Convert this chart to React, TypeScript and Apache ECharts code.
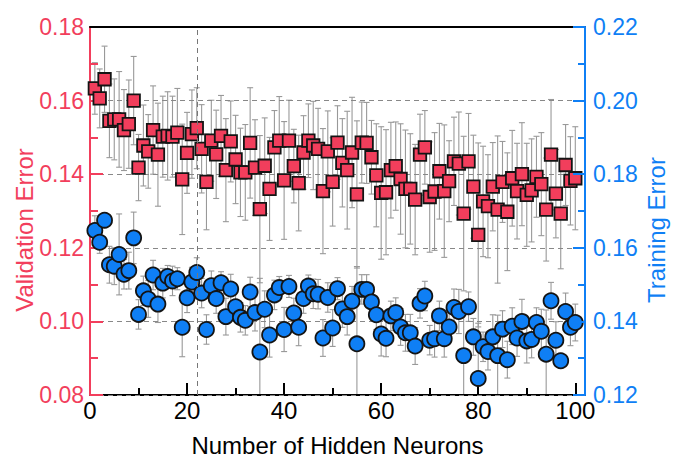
import React, { useEffect, useRef } from 'react';
import * as echarts from 'echarts';

const neurons = [
  1, 2, 3, 4, 5, 6, 7, 8, 9, 10, 11, 12, 13, 14, 15, 16, 17, 18, 19, 20,
  21, 22, 23, 24, 25, 26, 27, 28, 29, 30, 31, 32, 33, 34, 35, 36, 37, 38, 39, 40,
  41, 42, 43, 44, 45, 46, 47, 48, 49, 50, 51, 52, 53, 54, 55, 56, 57, 58, 59, 60,
  61, 62, 63, 64, 65, 66, 67, 68, 69, 70, 71, 72, 73, 74, 75, 76, 77, 78, 79, 80,
  81, 82, 83, 84, 85, 86, 87, 88, 89, 90, 91, 92, 93, 94, 95, 96, 97, 98, 99, 100,
];

const validationError = [
  0.1633, 0.1606, 0.1658, 0.1545, 0.1549, 0.1549, 0.152, 0.1536, 0.16, 0.1418,
  0.1478, 0.1462, 0.152, 0.1453, 0.1502, 0.1504, 0.1502, 0.1513, 0.1386, 0.1458,
  0.1509, 0.1525, 0.1469, 0.1379, 0.1491, 0.1454, 0.1504, 0.1411, 0.1489, 0.144,
  0.1405, 0.1405, 0.1485, 0.1418, 0.1305, 0.1423, 0.136, 0.1473, 0.1491, 0.1383,
  0.1491, 0.1422, 0.1376, 0.1459, 0.1491, 0.1478, 0.1469, 0.1354, 0.1462, 0.1379,
  0.1486, 0.1431, 0.1411, 0.1459, 0.1345, 0.1486, 0.1485, 0.1446, 0.1397, 0.1349,
  0.1351, 0.1411, 0.1422, 0.1387, 0.136, 0.136, 0.1331, 0.1453, 0.1473, 0.1338,
  0.1353, 0.1408, 0.1354, 0.1381, 0.1435, 0.1429, 0.1293, 0.1435, 0.1366, 0.1235,
  0.1326, 0.1313, 0.1366, 0.1304, 0.1379, 0.1298, 0.1389, 0.1354, 0.14, 0.1344,
  0.1356, 0.1393, 0.1373, 0.1304, 0.1453, 0.1347, 0.1293, 0.1425, 0.1382, 0.1389,
];

const validationStd = [
  0.007, 0.008, 0.009, 0.01, 0.011, 0.013, 0.011, 0.012, 0.012, 0.009,
  0.011, 0.01, 0.012, 0.014, 0.011, 0.012, 0.011, 0.012, 0.015, 0.011,
  0.012, 0.011, 0.012, 0.013, 0.011, 0.012, 0.011, 0.014, 0.011, 0.012,
  0.012, 0.013, 0.015, 0.013, 0.02, 0.013, 0.014, 0.01, 0.012, 0.016,
  0.011, 0.01, 0.013, 0.01, 0.01, 0.012, 0.011, 0.017, 0.011, 0.012,
  0.01, 0.012, 0.016, 0.015, 0.02, 0.011, 0.011, 0.01, 0.014, 0.018,
  0.017, 0.013, 0.012, 0.015, 0.016, 0.015, 0.015, 0.011, 0.01, 0.015,
  0.016, 0.013, 0.018, 0.011, 0.012, 0.014, 0.021, 0.013, 0.014, 0.025,
  0.015, 0.014, 0.012, 0.02, 0.011, 0.016, 0.013, 0.013, 0.014, 0.014,
  0.014, 0.011, 0.014, 0.014, 0.015, 0.012, 0.015, 0.011, 0.012, 0.014,
];

const trainingError = [
  0.1647, 0.1615, 0.1675, 0.1554, 0.155, 0.1582, 0.1528, 0.1538, 0.1627, 0.1419,
  0.1483, 0.1461, 0.1526, 0.1447, 0.1504, 0.1522, 0.151, 0.1516, 0.1384, 0.1464,
  0.1507, 0.1533, 0.1477, 0.1378, 0.1497, 0.1462, 0.1505, 0.1413, 0.1488, 0.144,
  0.1411, 0.1403, 0.148, 0.1424, 0.1317, 0.1433, 0.1363, 0.1472, 0.1492, 0.1378,
  0.1495, 0.1423, 0.1384, 0.1462, 0.1496, 0.1475, 0.1474, 0.1355, 0.1465, 0.1382,
  0.1489, 0.1434, 0.1413, 0.1455, 0.1339, 0.1487, 0.1487, 0.1453, 0.1418, 0.1366,
  0.1354, 0.1415, 0.1424, 0.1385, 0.1369, 0.1369, 0.1333, 0.1449, 0.1469, 0.1349,
  0.1353, 0.1415, 0.1353, 0.1385, 0.1438, 0.1427, 0.1307, 0.144, 0.1358, 0.1245,
  0.1331, 0.1318, 0.1358, 0.1307, 0.1379, 0.1296, 0.1387, 0.1355, 0.14, 0.1347,
  0.1351, 0.1397, 0.1373, 0.1311, 0.1456, 0.1349, 0.1293, 0.1427, 0.1384, 0.1397,
];

const trainingStd = [
  0.004, 0.003, 0.002, 0.005, 0.005, 0.011, 0.004, 0.005, 0.007, 0.004,
  0.004, 0.005, 0.004, 0.005, 0.004, 0.003, 0.004, 0.003, 0.008, 0.004,
  0.004, 0.004, 0.004, 0.004, 0.004, 0.004, 0.003, 0.005, 0.004, 0.004,
  0.004, 0.004, 0.004, 0.005, 0.02, 0.005, 0.006, 0.004, 0.003, 0.006,
  0.003, 0.004, 0.005, 0.004, 0.003, 0.004, 0.004, 0.005, 0.004, 0.005,
  0.003, 0.005, 0.005, 0.004, 0.021, 0.004, 0.004, 0.004, 0.004, 0.006,
  0.005, 0.004, 0.004, 0.005, 0.005, 0.005, 0.005, 0.004, 0.004, 0.004,
  0.005, 0.004, 0.005, 0.004, 0.005, 0.006, 0.012, 0.004, 0.005, 0.015,
  0.004, 0.005, 0.006, 0.011, 0.005, 0.005, 0.005, 0.005, 0.006, 0.006,
  0.005, 0.004, 0.006, 0.012, 0.005, 0.005, 0.002, 0.005, 0.005, 0.005,
];

const xTicks = [0, 20, 40, 60, 80, 100];
const leftTicks = [0.08, 0.1, 0.12, 0.14, 0.16, 0.18];
const rightTicks = [0.12, 0.14, 0.16, 0.18, 0.2, 0.22];
const markedNeurons = 22;

const RED = '#f23e5c';
const BLUE = '#0f7ff5';
const FONT = '"Liberation Sans", Arial, sans-serif';

function buildBars(vals: number[], errs: number[], floor: number) {
  return neurons.map((n, i) => {
    const hi = vals[i] + errs[i];
    const rawLo = vals[i] - errs[i];
    const lo = Math.max(floor, rawLo);
    return [n, lo, hi, rawLo < floor ? 0 : 1];
  });
}

const renderBar = (params: any, api: any) => {
  const x = api.value(0);
  const lo = api.value(1);
  const hi = api.value(2);
  const capLo = api.value(3);
  const top = api.coord([x, hi]);
  const bot = api.coord([x, lo]);
  const hw = 3;
  const style = { stroke: '#999999', lineWidth: 1.1 };
  const children: any[] = [
    { type: 'line', shape: { x1: top[0], y1: top[1], x2: bot[0], y2: bot[1] }, style },
    { type: 'line', shape: { x1: top[0] - hw, y1: top[1], x2: top[0] + hw, y2: top[1] }, style },
  ];
  if (capLo) {
    children.push({ type: 'line', shape: { x1: bot[0] - hw, y1: bot[1], x2: bot[0] + hw, y2: bot[1] }, style });
  }
  return { type: 'group', children };
};

export default function App() {
  const ref = useRef<HTMLDivElement>(null);

  useEffect(() => {
    document.body.style.margin = '0';
    if (!ref.current) return;
    const chart = echarts.init(ref.current, null, { renderer: 'svg' });
    const xMin = xTicks[0];
    const xStep = xTicks[1] - xTicks[0];
    const lMin = leftTicks[0];
    const lMax = leftTicks[leftTicks.length - 1];
    const rMin = rightTicks[0];
    const rMax = rightTicks[rightTicks.length - 1];
    const step = 0.02;

    const option: any = {
      animation: false,
      textStyle: { fontFamily: FONT },
      grid: { left: 90, right: 93, top: 27, bottom: 62, containLabel: false },
      xAxis: [
        {
          type: 'value',
          position: 'bottom',
          min: xMin,
          max: 102,
          interval: xStep,
          axisLine: { onZero: false, lineStyle: { color: '#000', width: 2 } },
          axisTick: { inside: true, length: 12, lineStyle: { color: '#000', width: 2 } },
          minorTick: { show: true, splitNumber: 2, length: 7, lineStyle: { color: '#000', width: 2 } },
          axisLabel: {
            fontSize: 24,
            color: '#000',
            margin: 3,
            fontFamily: FONT,
            formatter: (v: number) => (xTicks.indexOf(v) >= 0 ? String(v) : ''),
          },
          splitLine: { show: false },
          name: 'Number of Hidden Neurons',
          nameLocation: 'middle',
          nameGap: 38,
          nameTextStyle: { fontSize: 24, color: '#000', fontFamily: FONT },
          z: 2,
        },
        {
          type: 'value',
          position: 'top',
          min: xMin,
          max: 102,
          interval: xStep,
          axisLine: { onZero: false, lineStyle: { color: '#000', width: 2 } },
          axisTick: { show: false },
          axisLabel: { show: false },
          splitLine: { show: false },
          z: 4,
        },
      ],
      yAxis: [
        {
          type: 'value',
          position: 'left',
          min: lMin,
          max: lMax,
          interval: step,
          axisLine: { show: true, onZero: false, lineStyle: { color: RED, width: 2 } },
          axisTick: { show: true, inside: true, length: 13, lineStyle: { color: RED, width: 2 } },
          minorTick: { show: true, splitNumber: 2, length: 8, lineStyle: { color: RED, width: 2 } },
          axisLabel: {
            fontSize: 23,
            color: RED,
            margin: 6,
            fontFamily: FONT,
            formatter: (v: number) => v.toFixed(2),
          },
          splitLine: { show: true, lineStyle: { color: '#888888', type: [5, 4], width: 1 } },
          z: 3,
        },
        {
          type: 'value',
          position: 'right',
          min: rMin,
          max: rMax,
          interval: step,
          axisLine: { show: true, onZero: false, lineStyle: { color: BLUE, width: 2 } },
          axisTick: { show: true, inside: true, length: 12, lineStyle: { color: BLUE, width: 2 } },
          minorTick: { show: true, splitNumber: 2, length: 7, lineStyle: { color: BLUE, width: 2 } },
          axisLabel: {
            fontSize: 23,
            color: BLUE,
            margin: 8,
            fontFamily: FONT,
            formatter: (v: number) => v.toFixed(2),
          },
          splitLine: { show: false },
          z: 5,
        },
      ],
      graphic: [
        {
          type: 'text',
          x: 24,
          y: 230,
          rotation: Math.PI / 2,
          style: { text: 'Validation Error', fill: RED, font: `24px ${FONT}`, align: 'center', verticalAlign: 'middle' },
        },
        {
          type: 'text',
          x: 656,
          y: 230,
          rotation: Math.PI / 2,
          style: { text: 'Training Error', fill: BLUE, font: `24px ${FONT}`, align: 'center', verticalAlign: 'middle' },
        },
      ],
      series: [
        {
          type: 'custom',
          name: 'valBars',
          xAxisIndex: 0,
          yAxisIndex: 0,
          renderItem: renderBar,
          data: buildBars(validationError, validationStd, lMin),
          encode: { x: 0, y: [1, 2] },
          z: 1,
          silent: true,
        },
        {
          type: 'custom',
          name: 'trainBars',
          xAxisIndex: 0,
          yAxisIndex: 1,
          renderItem: renderBar,
          data: buildBars(trainingError, trainingStd, rMin),
          encode: { x: 0, y: [1, 2] },
          z: 1,
          silent: true,
        },
        {
          type: 'scatter',
          name: 'Validation Error',
          xAxisIndex: 0,
          yAxisIndex: 0,
          symbol: 'rect',
          symbolSize: 12.5,
          itemStyle: { color: RED, borderColor: '#141414', borderWidth: 1.8, opacity: 1 },
          data: neurons.map((n, i) => [n, validationError[i]]),
          z: 3,
          markLine: {
            silent: true,
            symbol: ['none', 'none'],
            label: { show: false },
            lineStyle: { color: '#777', type: [5, 4], width: 1 },
            data: [{ xAxis: markedNeurons }],
          },
        },
        {
          type: 'scatter',
          name: 'Training Error',
          xAxisIndex: 0,
          yAxisIndex: 1,
          symbol: 'circle',
          symbolSize: 15,
          itemStyle: { color: BLUE, borderColor: '#141414', borderWidth: 1.8, opacity: 1 },
          data: neurons.map((n, i) => [n, trainingError[i]]),
          z: 3,
        },
      ],
    };
    chart.setOption(option);
    return () => chart.dispose();
  }, []);

  return <div ref={ref} style={{ width: 678, height: 462 }} />;
}
